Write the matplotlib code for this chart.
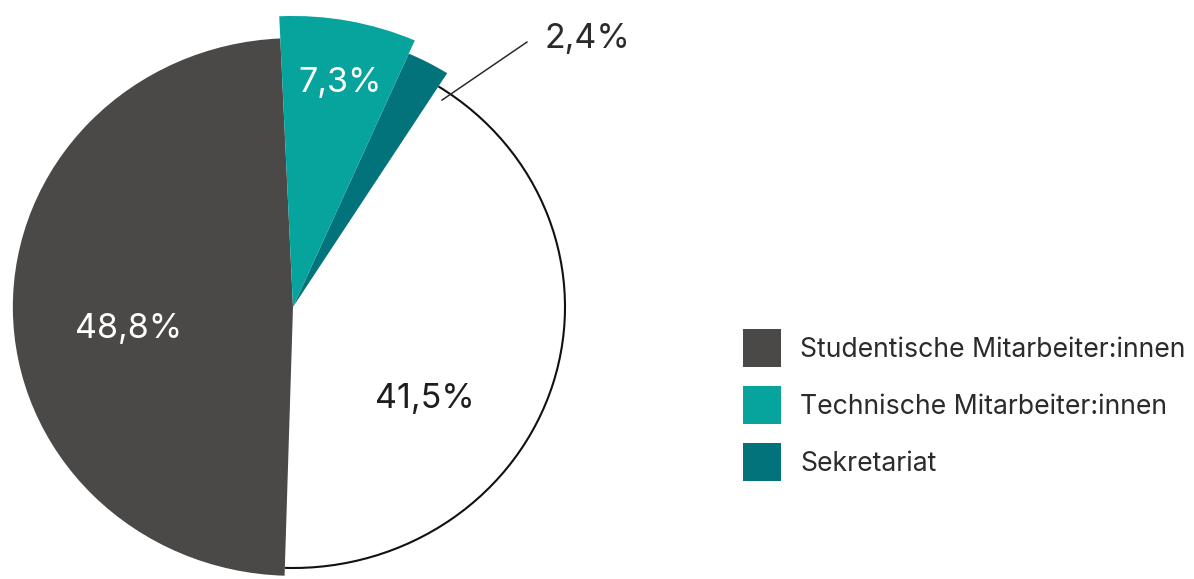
import numpy as np
import matplotlib.pyplot as plt
from matplotlib.patches import Arc, Patch

# Shares in percent, listed counter-clockwise from the start angle
shares = [48.8, 41.5, 2.4, 7.3]
share_labels = ["48,8%", "41,5%", "2,4%", "7,3%"]
legend_labels = ["Studentische Mitarbeiter:innen",
                 "Technische Mitarbeiter:innen",
                 "Sekretariat"]

# Styling per slice (same order as shares)
colors = ["#4a4947", "#ffffff", "#03737b", "#06a49d"]
radii = [1.03, 1.0, 1.06, 1.115]
label_colors = ["white", "#1e1e1e", "#2b2b2b", "white"]
# label placement as (angle in degrees, distance from centre)
label_polar = [(187.9, 0.61), (-36.2, 0.60), None, (78.7, 0.875)]

plt.rcParams.update({
    "font.family": ["Inter", "DejaVu Sans"],
    "figure.dpi": 100,
})

W, H = 1194, 579
fig = plt.figure(figsize=(W / 100, H / 100))
ax = fig.add_axes([0, 0, 1, 1])

wedges, _ = ax.pie(
    shares,
    colors=colors,
    startangle=92.6,
    counterclock=True,
    wedgeprops={"linewidth": 0},
)

for w, r in zip(wedges, radii):
    w.set_radius(r)

# outline only the curved edge of the white slice
white = wedges[1]
white.set_zorder(0.4)
ax.add_patch(Arc((0, 0), 2 * radii[1], 2 * radii[1],
                 theta1=white.theta1, theta2=white.theta2,
                 color="#111111", lw=1.5, zorder=0.5))

# slice labels
for txt, pos, col in zip(share_labels, label_polar, label_colors):
    if pos is None:
        continue
    ang, dist = pos
    ax.text(dist * np.cos(np.radians(ang)), dist * np.sin(np.radians(ang)),
            txt, color=col, fontsize=24.5, ha="center", va="center", zorder=3)

# small slice gets a leader line
ax.plot([0.548, 0.860], [0.793, 1.015], color="#2b2b2b", lw=1.1, zorder=3)
ax.text(0.925, 1.027, share_labels[2], color="#2b2b2b", fontsize=24.5,
        ha="left", va="center", zorder=3)

# pixel scale: 272 px per unit horizontally, 261 px per unit vertically
cx, cy = 293, 307
ax.set_aspect("auto")
ax.set_xlim(-cx / 272, (W - cx) / 272)
ax.set_ylim(-(H - cy) / 261, cy / 261)
ax.axis("off")

handles = [Patch(facecolor=colors[i], edgecolor="none") for i in (0, 3, 2)]
fs = 19.2
px = fs * 100 / 72
# legend draws the patch 0.65*h + 0.245*fs tall, solve for a 38 px square
hh = (38 - 0.245 * px) / (0.65 * px)
fig.legend(
    handles, legend_labels,
    loc="upper left",
    bbox_to_anchor=(743 / W, 1 - 329 / H),
    frameon=False,
    borderpad=0,
    borderaxespad=0,
    fontsize=fs,
    handlelength=38 / px,
    handleheight=hh,
    handletextpad=19 / px,
    labelspacing=19 / px,
    labelcolor="#2b2b2b",
)

fig.savefig("out.png", dpi=100)
